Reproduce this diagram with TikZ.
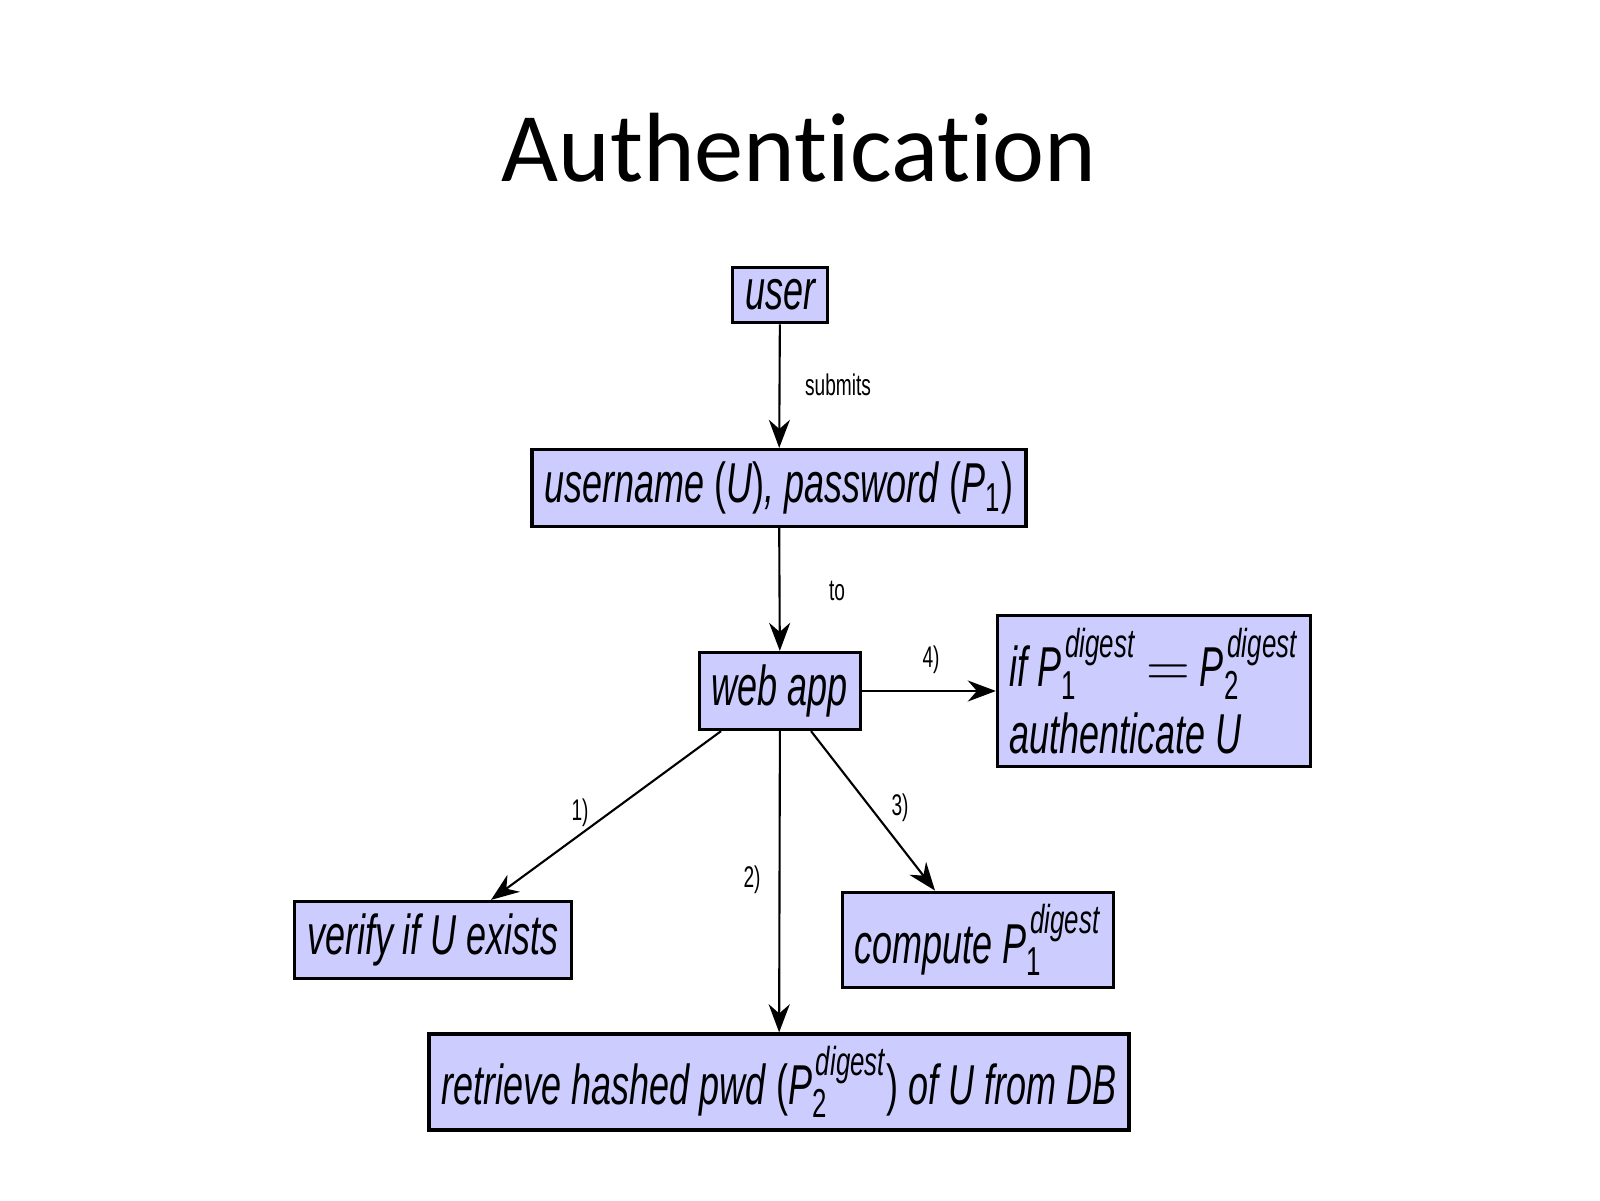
\documentclass[tikz,border=0pt]{standalone}
\usepackage{fontspec}
\newfontfamily\diagfont[FakeStretch=0.64]{Liberation Sans}
\newfontfamily\titlefont[Ligatures=NoCommon]{Carlito}
\usetikzlibrary{arrows.meta}
\newcommand{\Pdig}[1]{P$^{\hbox{\kern1pt\fontsize{11.5}{13}\selectfont\itshape digest}}_{\hbox{\fontsize{11.5}{13}\selectfont\upshape #1}}$}
\newcommand{\Pone}{P$_{\hbox{\fontsize{11.5}{13}\selectfont\upshape 1}}$}

\begin{document}
\begin{tikzpicture}[box/.style = {draw, line width=0.9pt, fill=blue!20, inner sep=3.5pt,
		font=\diagfont\itshape\fontsize{16}{19}\selectfont},
	lbl/.style = {font=\diagfont\fontsize{8.5}{10}\selectfont},
	arr/.style = {-{Stealth[length=8pt,width=6pt]}, line width=0.6pt}]
					\useasboundingbox (0,0) rectangle (16,12);
					\node[font=\titlefont\fontsize{28}{33}\selectfont] (title) at (7.99,10.52) {Authentication};
					\begin{scope}[every node/.style={box}]
						\node (user) at (7.80,9.05) {user};
						\node (cred) at (7.79,7.12) {username \textup{(}U\textup{)}, password \textup{(}\Pone\textup{)}};
						\node (webapp) at (7.80,5.09) {web app};
						\node[align=left] (check) at (11.54,5.09) {if \Pdig{1}$\,=\,$\Pdig{2}\\authenticate U};
						\node (verify) at (4.33,2.60) {verify if U exists};
						\node (compute) at (9.78,2.60) {compute \Pdig{1}};
						\node (retrieve) at (7.79,1.18) {retrieve hashed pwd \textup{(}\Pdig{2}\textup{)} of U from DB};
					\end{scope}
					\draw [arr] (user) -- (cred);
					\draw [arr] (cred) -- (webapp);
					\draw [arr] (webapp) -- (check);
					\draw [arr] ([xshift=0.23cm]webapp.south west) -- ([xshift=0.58cm]verify.north);
					\draw [arr] (webapp) -- (retrieve);
					\draw [arr] ([xshift=0.31cm]webapp.south) -- ([xshift=-0.43cm]compute.north);
					\node[lbl] (submits) at (8.38,8.15) {submits};
					\node[lbl] (to) at (8.37,6.09) {to};
					\node[lbl] (four) at (9.31,5.40) {4)};
					\node[lbl] (one) at (5.80,3.87) {1)};
					\node[lbl] (two) at (7.52,3.20) {2)};
					\node[lbl] (three) at (9.00,3.92) {3)};
				\end{tikzpicture}
\end{document}
